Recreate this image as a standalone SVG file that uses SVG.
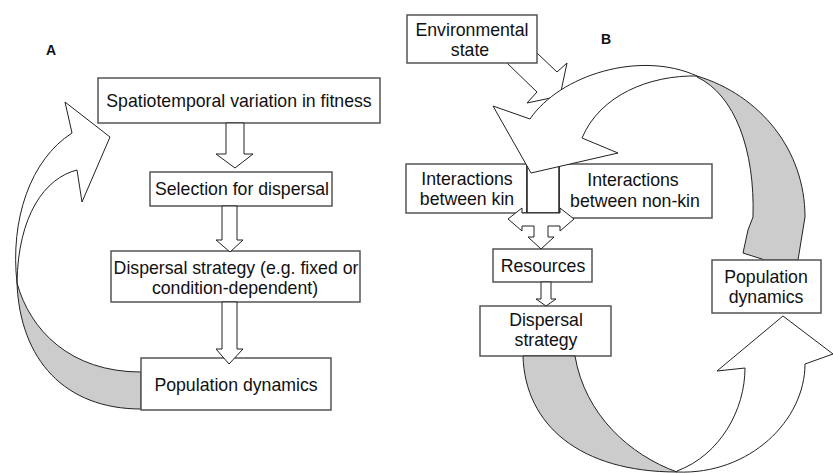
<svg xmlns="http://www.w3.org/2000/svg" width="833" height="473" viewBox="0 0 833 473">
<style>
.box{fill:#fff;stroke:#555;stroke-width:1.5}
.arr{fill:#fff;stroke:#222;stroke-width:1;stroke-linejoin:miter}
.grey{fill:#cccccc;stroke:#222;stroke-width:1}
text{font-family:"Liberation Sans",Arial,sans-serif;font-size:17.7px;fill:#111;text-anchor:middle}
.lbl{font-size:14px;font-weight:bold}
</style>
<rect width="833" height="473" fill="#fff"/>
<text class="lbl" x="51" y="55">A</text>
<text class="lbl" x="606" y="44">B</text>

<g id="connectors">
  <!-- Panel A loop -->
  <path class="grey" d="M17,283 C30,330 70,372 141,372 L141,409 C65,409 20,360 17,283 Z"/>
  <path class="arr" d="M72,133 L65,102 L110,137 L82,202 L77,170 C45,178 18,215 17,283 C10,220 30,160 72,133 Z"/>
  <!-- Panel B environment arrow -->
  <path class="arr" d="M537,53 L557,72 L567,63 L560,96 L527,103 L537,92 L507,63 Z"/>
</g>

<g id="nodeA1"><rect class="box" x="98" y="78" width="282" height="45"/><text x="239" y="107">Spatiotemporal variation in fitness</text></g>
<g id="nodeA2"><rect class="box" x="150" y="172" width="182" height="34"/><text x="242" y="195">Selection for dispersal</text></g>
<g id="nodeA3"><rect class="box" x="111" y="251" width="249" height="51"/><text x="236" y="274">Dispersal strategy (e.g. fixed or</text><text x="235" y="294">condition-dependent)</text></g>
<g id="nodeA4"><rect class="box" x="141" y="358" width="190" height="52"/><text x="236" y="391">Population dynamics</text></g>

<g id="nodeB1"><rect class="box" x="407" y="15" width="130" height="48"/><text x="472" y="36">Environmental</text><text x="470" y="56">state</text></g>
<g id="nodeB2"><rect class="box" x="406" y="164" width="121" height="49"/><text x="467" y="185">Interactions</text><text x="467" y="205">between kin</text></g>
<g id="nodeB3"><rect class="box" x="559" y="164" width="153" height="54"/><text x="633" y="186">Interactions</text><text x="635" y="207">between non-kin</text></g>
<g id="nodeB4"><rect class="box" x="493" y="249" width="99" height="33"/><text x="543" y="272">Resources</text></g>
<g id="nodeB5"><rect class="box" x="480" y="306" width="131" height="50"/><text x="546" y="326">Dispersal</text><text x="546" y="346">strategy</text></g>

<g id="connectors2">
  <!-- Panel A straight block arrows -->
  <path class="arr" d="M226,123 L244,123 L244,154 L253,154 L235,168 L216,154 L226,154 Z"/>
  <path class="arr" d="M222,206 L237,206 L237,240 L243,240 L230,252 L216,240 L222,240 Z"/>
  <path class="arr" d="M222,302 L237,302 L237,349 L243,349 L229,364 L216,349 L222,349 Z"/>
  <!-- Panel B splitter -->
  <rect class="arr" x="527" y="150" width="32" height="63" style="stroke-width:1.5"/>
  <path class="arr" d="M522,208 L508,219 L522,231 L522,226 L534,226 L534,237 L528,237 L541,249 L554,237 L548,237 L548,226 L560,226 L560,231 L574,219 L560,208 L560,213 L522,213 Z"/>
  <path class="arr" d="M541,282 L551,282 L551,299 L556,299 L546,306 L536,299 L541,299 Z"/>
  <!-- Panel B big top loop -->
  <path class="grey" d="M697,76 C760,95 805,150 805,217 L798,260 L765,260 L743,253 L748,230 L753,217 C755,150 735,95 697,77 Z"/>
  <path class="arr" d="M493,106 L530,119 C560,75 640,50 697,76 C650,75 600,95 582,138 L618,153 L531,173 Z"/>
  <!-- Panel B bottom loop -->
  <path class="grey" d="M523,356 C525,425 580,472 677,472 C630,455 585,415 575,356 Z"/>
  <path class="arr" d="M677,471 C720,455 745,410 745,368 L717,371 L783,316 L833,354 L805,364 C805,420 750,475 677,472 Z"/>
</g>

<g id="nodeB6"><rect class="box" x="712" y="260" width="109" height="53"/><text x="766" y="283">Population</text><text x="766" y="303">dynamics</text></g>
</svg>
